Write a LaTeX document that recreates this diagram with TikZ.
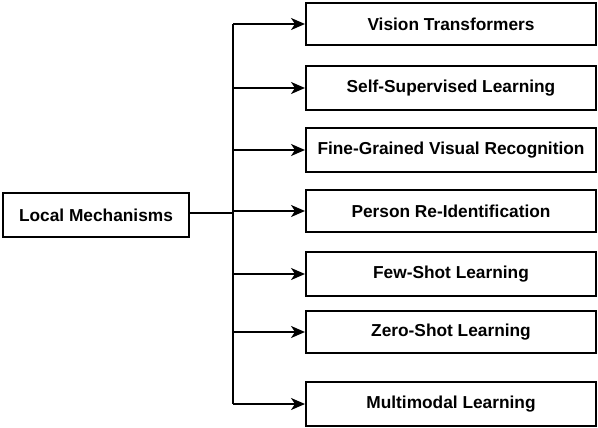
\documentclass[tikz,border=0pt]{standalone}
\usepackage{fontspec}
\setmainfont{Liberation Sans}
\usetikzlibrary{arrows.meta}
\begin{document}
\begin{tikzpicture}[x=1pt,y=1pt,
  box/.style={draw=black, line width=2pt, fill=white, minimum height=44pt, inner sep=0pt,
    font=\fontsize{17.3}{20}\selectfont\bfseries},
  rbox/.style={box, minimum width=290pt},
  conn/.style={line width=2pt},
  arr/.style={conn, -{Stealth[length=14pt,width=12pt,inset=4pt]}}]
\useasboundingbox (0,0) rectangle (598,-428);
\node[box, minimum width=186pt] (local) at (96,-215) {Local Mechanisms};
\node[rbox, minimum height=42pt] (r1) at (451,-24) {Vision Transformers};
\node[rbox] (r2) at (451,-88) {Self-Supervised Learning};
\node[rbox] (r3) at (451,-150) {Fine-Grained Visual Recognition};
\node[rbox, minimum height=42pt] (r4) at (451,-211) {Person Re-Identification};
\node[rbox] (r5) at (451,-274) {Few-Shot Learning};
\node[rbox, minimum height=42pt] (r6) at (451,-332) {Zero-Shot Learning};
\node[rbox] (r7) at (451,-404) {Multimodal Learning};
\coordinate (t) at (233,-213);
\draw[conn] (local.east |- t) -- (t);
\draw[conn] (t |- r1.west) -- (t |- r7.west);
\foreach \n in {r1,r2,r3,r4,r5,r6,r7}{
  \draw[arr] (t |- \n.west) -- (\n.west);
}
\end{tikzpicture}
\end{document}
